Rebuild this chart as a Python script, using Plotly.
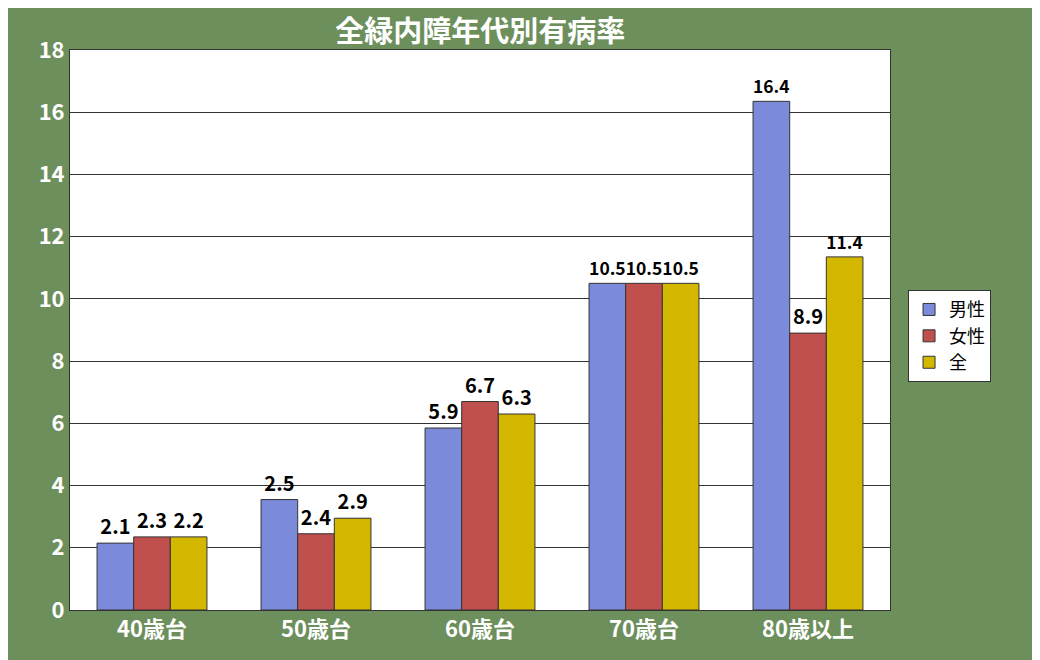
import plotly.graph_objects as go

categories = ['40歳台', '50歳台', '60歳台', '70歳台', '80歳以上']
series_names = ['男性', '女性', '全']
male = [2.15, 3.55, 5.85, 10.5, 16.35]
female = [2.35, 2.45, 6.7, 10.5, 8.9]
total = [2.35, 2.95, 6.3, 10.5, 11.35]
male_labels = ['2.1', '2.5', '5.9', '10.5', '16.4']
female_labels = ['2.3', '2.4', '6.7', '10.5', '8.9']
total_labels = ['2.2', '2.9', '6.3', '10.5', '11.4']
colors = ['#7b8ad9', '#c0504d', '#d4b800']

font = 'Noto Sans CJK JP'
fig = go.Figure()
for name, vals, labels, c in zip(series_names, [male, female, total],
                                 [male_labels, female_labels, total_labels], colors):
    fig.add_trace(go.Bar(
        x=categories, y=vals, name=name, text=['<b>%s</b>' % t for t in labels],
        textposition='outside',
        textfont=dict(color='black', size=20, family=font), cliponaxis=False,
        marker=dict(color=c, line=dict(color='#333333', width=1)),
    ))

fig.update_layout(
    width=1040, height=660,
    paper_bgcolor='#6d8f5c', plot_bgcolor='white',
    margin=dict(l=62, r=158, t=42, b=58),
    bargap=0.33, bargroupgap=0,
    title=dict(text='<b>全緑内障年代別有病率</b>', x=0.454, y=0.98, xanchor='center',
               font=dict(color='white', size=29, family=font)),
    font=dict(family=font),
    legend=dict(x=1.022, y=0.571, xanchor='left', yanchor='top', bgcolor='white',
                bordercolor='#333333', borderwidth=1,
                font=dict(color='black', size=18, family=font)),
    uniformtext=dict(minsize=10),
)
fig.update_yaxes(range=[0, 18], dtick=2, gridcolor='#333333', gridwidth=1,
                 tickfont=dict(color='white', size=22), showline=True,
                 linecolor='#333333', mirror=True, tickprefix='<b>', ticksuffix='</b>')
fig.update_xaxes(tickfont=dict(color='white', size=22), showline=True,
                 linecolor='#333333', mirror=True,
                 tickvals=categories, ticktext=['<b>%s</b>' % c for c in categories])
fig.write_html('out.html')
